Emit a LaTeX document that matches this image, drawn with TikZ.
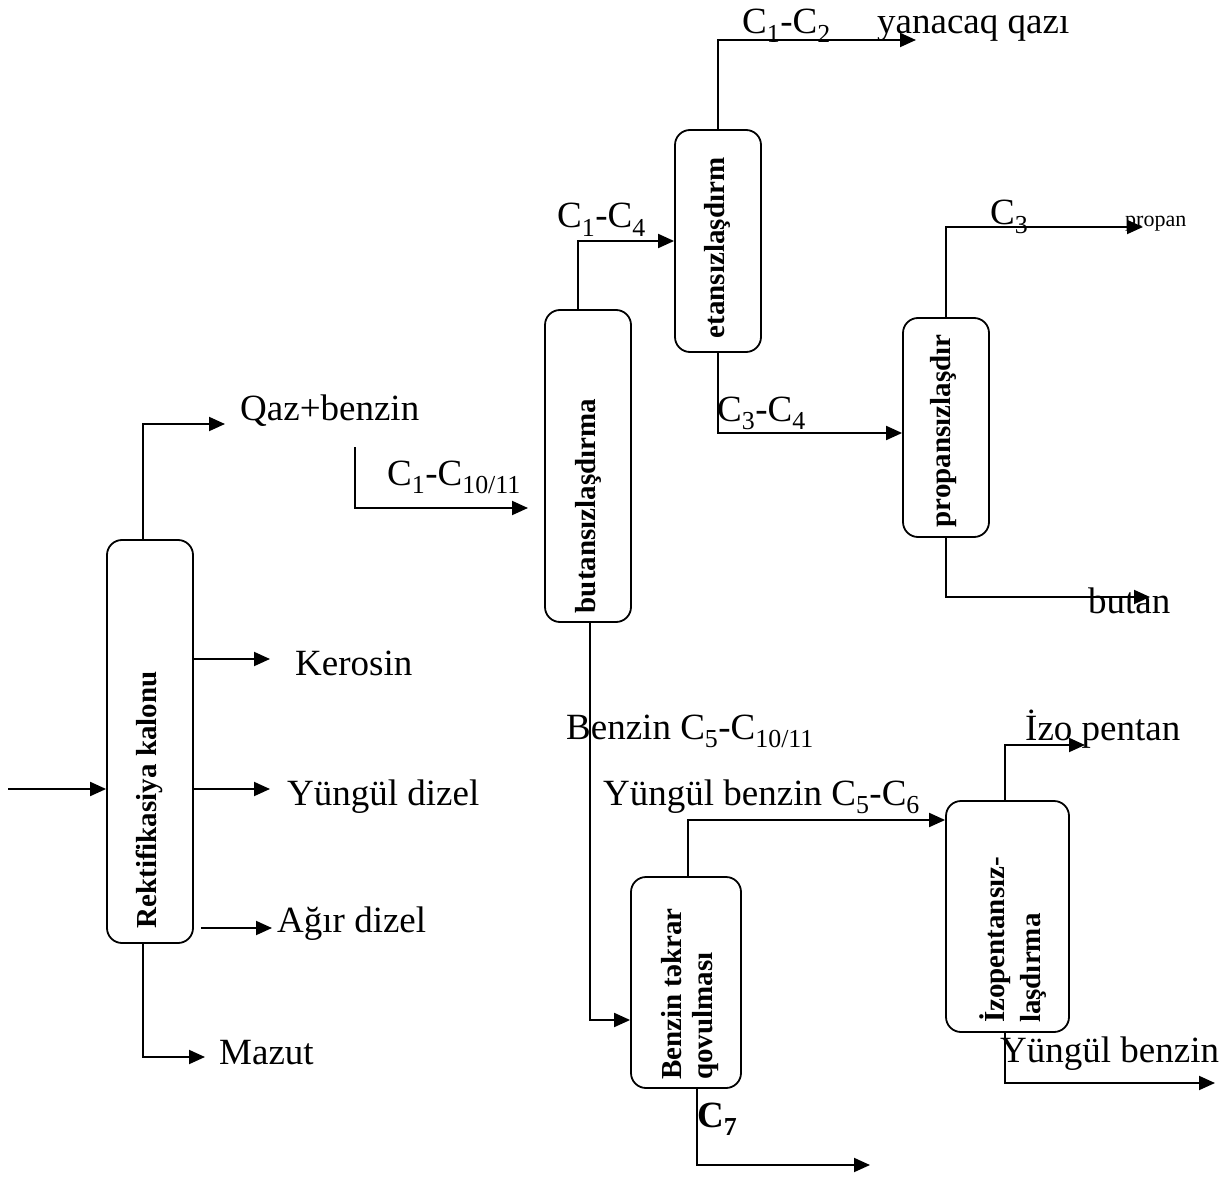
\documentclass[tikz,border=0pt]{standalone}
\usepackage{fontspec}
\setmainfont{Liberation Serif}
\usetikzlibrary{arrows.meta,calc}
\tikzset{
  unit/.style={draw, line width=1.8pt, rounded corners=15pt, inner sep=0pt},
  vtext/.style={rotate=90, font=\fontsize{29}{34}\selectfont\bfseries, inner sep=0pt, align=left},
  lbl/.style={font=\fontsize{37}{44}\selectfont, inner sep=0pt, anchor=base west},
  arr/.style={line width=1.9pt, -{Triangle[length=16pt,width=14pt]}},
  ln/.style={line width=1.9pt}
}
\begin{document}
\begin{tikzpicture}[x=1pt,y=-1pt]
\useasboundingbox[fill=white] (0,0) rectangle (1227,1193);
% units
\node[unit, minimum width=86pt, minimum height=403pt] (rekt) at (150,741.5) {};
\node[vtext] (rektt) at (149,800) {Rektifikasiya kalonu};
\node[unit, minimum width=86pt, minimum height=312pt] (butan) at (588,466) {};
\node[vtext] (butant) at (588,506) {butansızlaşdırma};
\node[unit, minimum width=86pt, minimum height=222pt] (etan) at (718,241) {};
\node[vtext] (etant) at (717,248) {etansızlaşdırm};
\node[unit, minimum width=86pt, minimum height=219pt] (prop) at (946,427.5) {};
\node[vtext] (propt) at (944,431) {propansızlaşdır};
\node[unit, minimum width=110pt, minimum height=211pt] (benz) at (686,982.5) {};
\node[vtext] (benzt) at (690,994) {Benzin təkrar\\[-3pt]qovulması};
\node[unit, minimum width=123pt, minimum height=231pt] (izo) at (1007.5,916.5) {};
\node[vtext] (izot) at (1013,940) {İzopentansız-\\[2pt]laşdırma};
% free ends
\coordinate (in) at (8,789);
\coordinate (qb) at (225,424);
\coordinate (ker) at (270,659);
\coordinate (yd) at (270,789);
\coordinate (ad) at (272,928);
\coordinate (maz) at (205,1057);
\coordinate (fs) at (355,447);
\coordinate (fe) at (528,508);
\coordinate (fg) at (916,40);
\coordinate (pr) at (1143,227);
\coordinate (bu) at (1150,597);
\coordinate (c7e) at (870,1165);
\coordinate (ip) at (1085,745);
\coordinate (yb) at (1215,1083);
% connectors
\draw[arr] (in) -- (in -| rekt.west);
\draw[arr] ([xshift=-7pt]rekt.north) |- (qb);
\draw[arr] (ker -| rekt.east) -- (ker);
\draw[arr] (yd -| rekt.east) -- (yd);
\draw[arr] ([xshift=7pt]ad -| rekt.east) -- (ad);
\draw[arr] ([xshift=-7pt]rekt.south) |- (maz);
\draw[arr] (fs) |- (fe);
\draw[arr] ([xshift=-10pt]butan.north) |- (etan.west);
\draw[arr] (etan.north) |- (fg);
\draw[arr] (etan.south) |- ([yshift=-5.5pt]prop.west);
\draw[arr] (prop.north) |- (pr);
\draw[arr] (prop.south) |- (bu);
\draw[arr] ([xshift=2pt]butan.south) |- ([yshift=-37.5pt]benz.west);
\draw[arr] ([xshift=2pt]benz.north) |- ([yshift=96.5pt]izo.west);
\draw[arr] ([xshift=11pt]benz.south) |- (c7e);
\draw[arr] ([xshift=-2.5pt]izo.north) |- (ip);
\draw[arr] ([xshift=-2.5pt]izo.south) |- (yb);
% labels
\node[lbl] (l1) at (240,420) {Qaz+benzin};
\node[lbl] (l2) at (295,675) {Kerosin};
\node[lbl] (l3) at (287,805) {Yüngül dizel};
\node[lbl] (l4) at (277,932) {Ağır dizel};
\node[lbl] (l5) at (219,1064) {Mazut};
\node[lbl] (l6) at (387,485) {C\textsubscript{1}-C\textsubscript{10/11}};
\node[lbl] (l7) at (557,228) {C\textsubscript{1}-C\textsubscript{4}};
\node[lbl] (l8) at (742,34) {C\textsubscript{1}-C\textsubscript{2}};
\node[lbl] (l9) at (877,34) {yanacaq qazı};
\node[lbl] (l10) at (717,421) {C\textsubscript{3}-C\textsubscript{4}};
\node[lbl] (l11) at (990,225) {C\textsubscript{3}};
\node[lbl, font=\fontsize{22}{26}\selectfont] (l12) at (1125,227) {propan};
\node[lbl] (l13) at (1088,613) {butan};
\node[lbl] (l14) at (566,739) {Benzin C\textsubscript{5}-C\textsubscript{10/11}};
\node[lbl] (l15) at (603,805) {Yüngül benzin C\textsubscript{5}-C\textsubscript{6}};
\node[lbl] (l16) at (1025,740) {İzo pentan};
\node[lbl] (l17) at (1000,1062) {Yüngül benzin};
\node[lbl, font=\fontsize{37}{44}\selectfont\bfseries] (l18) at (697,1127) {C\textsubscript{7}};
\end{tikzpicture}
\end{document}
